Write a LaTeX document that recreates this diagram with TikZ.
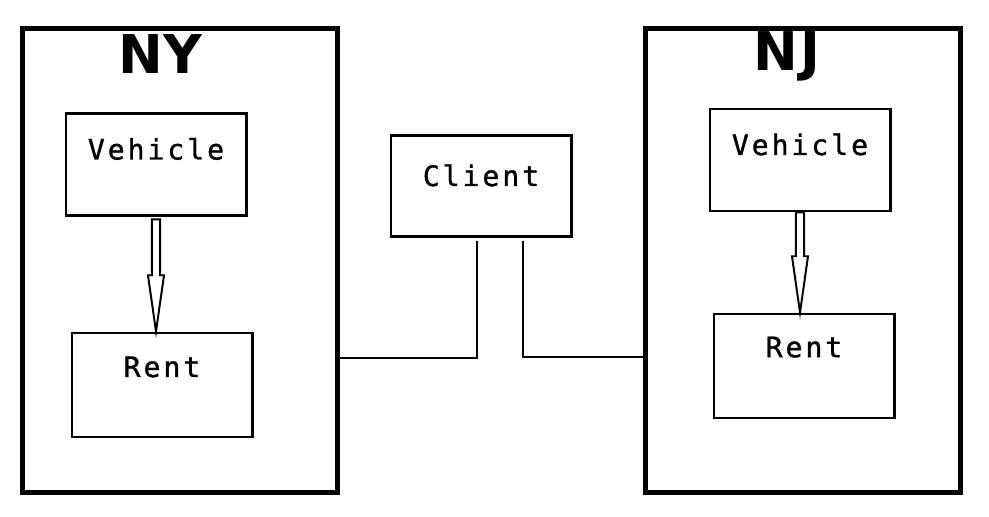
\documentclass[tikz,border=0pt]{standalone}
\usepackage{fontspec}
\usetikzlibrary{calc}
\newfontfamily\boxfont[LetterSpace=10.5, FakeBold=1.2]{DejaVu Sans Mono}
\newfontfamily\titlefont{DejaVu Sans}

\begin{document}
\begin{tikzpicture}[x=0.025cm, y=-0.025cm]
%------------------------------------------------------------------------------------------------
% Styles
    \tikzset{region/.style={draw, line width=3.5pt, inner sep=0pt,
            minimum width=7.875cm, minimum height=11.575cm},
        regionname/.style={font=\titlefont\bfseries\fontsize{38}{40}\selectfont, anchor=base},
        unitbox/.style={draw, line width=2.1pt, inner xsep=0pt, inner ysep=0pt,
            minimum width=4.5cm, text height=1.15cm, text depth=1.4cm,
            font=\boxfont\fontsize{20}{22}\selectfont},
        wire/.style={line width=1.9pt},
        fatarrow/.style={line width=1.4pt, line join=miter, to path={
            let \p1=(\tikztostart), \p2=(\tikztotarget) in
            (\x1-2.9pt,\y1) -- (\x1+2.9pt,\y1) -- (\x1+2.9pt,\y2+40pt) -- (\x1+5.7pt,\y2+40pt)
            -- (\x2,\y2) -- (\x1-5.7pt,\y2+40pt) -- (\x1-2.9pt,\y2+40pt) -- cycle}}
    }
    \useasboundingbox (0,0) rectangle (989,517);
%------------------------------------------------------------------------------------------------
% NY
    \node [region, label={[regionname, xshift=-0.5cm, yshift=-1.175cm]north:NY}] (ny) at (180,260.5) {};
    \node [unitbox] (nyveh) at (156,164.5) {Vehicle};
    \node [unitbox, text height=1.1cm, text depth=1.5cm] (nyrent) at (162,385) {Rent};
    \draw [fatarrow] ([yshift=-0.06cm]nyveh.south) to (nyveh.south |- nyrent.north);
% NJ
    \node [region, label={[regionname, xshift=-0.4cm, yshift=-1.1cm]north:N\kern2pt J}] (nj) at (803,260.5) {};
    \node [unitbox] (njveh) at (800,160) {Vehicle};
    \node [unitbox, text height=1.08cm, text depth=1.52cm] (njrent) at (804,366) {Rent};
    \draw [fatarrow] (njveh.south) to (njveh.south |- njrent.north);
% Client
    \node [unitbox, text height=1.27cm, text depth=1.27cm] (client) at (481,186) {Client};
    \coordinate (clleft) at ([shift={(-0.1cm,-0.075cm)}]client.south);
    \coordinate (clright) at ([shift={(1.05cm,-0.075cm)}]client.south);
%------------------------------------------------------------------------------------------------
\draw [wire] (ny.east |- 0,358) -| (clleft);
\draw [wire] (clright) |- (nj.west |- 0,357);

\end{tikzpicture}
\end{document}
